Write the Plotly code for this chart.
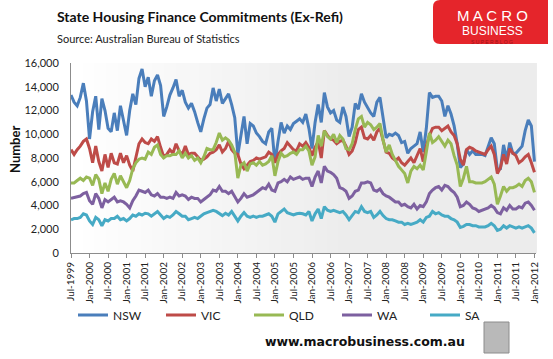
import plotly.graph_objects as go
import pandas as pd

# ---------------- data ----------------
months = pd.date_range("1999-07-01", "2012-01-01", freq="MS").strftime("%b-%Y").tolist()
tick_labels = months[::6]

nsw = [13300, 12700, 12400, 13100, 14300, 12800, 9600, 11900, 13200, 10400, 13000, 12000, 10500, 10200, 11800, 10300, 12400, 11200, 9900, 12000, 13400, 12500, 14700, 15500, 14000,
       14800, 13200, 14500, 15000, 14100, 11500, 12300, 13300, 13900, 14600, 13200, 13700, 12700, 12200, 12600, 11900, 11000, 10200, 11300, 12200, 12500, 13900, 12800, 13800, 12600, 13000,
       13400, 12500, 11400, 8300, 9800, 11500, 9200, 10900, 10700, 10100, 9800, 9400, 9200, 10200, 10500, 7600, 9400, 11000, 10100, 10700, 10400, 10900, 11100, 11300, 11000,
       11700, 10500, 8800, 11000, 12500, 11000, 13500, 12300, 11800, 12000, 11200, 11000, 12300, 11500, 9800, 10600, 12600, 12100, 13400, 12700, 12200, 11800, 11500, 12700, 13100, 11500,
       9700, 10000, 9900, 10100, 9900, 9300, 9400, 8400, 8800, 9000, 9200, 10200, 8500, 10500, 13500, 13100, 13200, 13200, 12800, 11500, 12400, 11700, 10700, 9200, 7200, 7500,
       8700, 8300, 8600, 8300, 8300, 8300, 8200, 9000, 9700, 9200, 7000, 7100, 9100, 7900, 9300, 8400, 8400, 8700, 9000, 10300, 11200, 10700, 7700]

vic = [8700, 8300, 8700, 9000, 9400, 9600, 8800, 7600, 9000, 7700, 6900, 8300, 7200, 8400, 7600, 7500, 8400, 7600, 8200, 7400, 6900, 8000, 9200, 9600, 9300,
       9200, 9600, 9400, 9800, 8900, 8100, 8300, 8700, 8400, 9200, 8600, 8300, 9000, 8300, 8400, 8400, 8100, 7800, 7900, 8100, 8400, 8500, 8700, 9100, 8500, 8800,
       9400, 8700, 8400, 8300, 7500, 7100, 7400, 7700, 7800, 8000, 7900, 8000, 8100, 8500, 8300, 7600, 8300, 8600, 8800, 9300, 9000, 8700, 8600, 9200, 9000,
       9300, 8900, 8200, 8900, 9400, 8000, 10300, 9900, 9600, 9500, 9200, 9400, 9500, 9000, 8300, 8600, 9300, 10400, 10600, 9700, 9600, 9900, 9500, 10200, 10500, 9500,
       8500, 8400, 8000, 7800, 8000, 7600, 7400, 7700, 8000, 7600, 8200, 8800, 7700, 9000, 9900, 10500, 10600, 10600, 10300, 10500, 10700, 10200, 9900, 9200, 7900, 7400,
       8700, 8900, 8800, 8600, 8500, 8400, 8300, 8700, 9000, 8300, 6700, 7200, 8300, 7500, 8800, 8400, 8200, 7600, 7800, 8100, 8300, 7600, 6800]

qld = [5900, 5900, 6100, 6300, 6100, 6400, 6300, 5700, 6600, 6200, 5000, 5900, 5200, 6200, 6700, 5800, 6500, 6000, 5500, 6100, 7100, 7600, 7900, 8000, 7900,
       8500, 8300, 8900, 9100, 8300, 8000, 8200, 8200, 8300, 8300, 8600, 8000, 8400, 8000, 8200, 7800, 8000, 7600, 8100, 8800, 8700, 8700, 9300, 10100, 9500, 9700,
       9500, 9100, 8500, 6300, 7400, 7600, 6900, 7500, 7600, 7400, 7700, 7400, 7500, 7700, 8200, 6500, 7700, 8400, 8100, 8200, 8400, 8500, 8300, 8700, 8700,
       9000, 8600, 7400, 8100, 9900, 9000, 10300, 9800, 9600, 10000, 9300, 9900, 9600, 8800, 8700, 9200, 10400, 11300, 11500, 10600, 11000, 10800, 10400, 10600, 10900, 9500,
       8500, 9100, 8300, 7800, 7300, 7000, 6700, 5900, 6900, 7300, 7100, 7400, 7000, 8500, 10100, 9300, 9500, 9800, 9400, 9000, 9500, 9200, 8200, 7400, 5600, 6300,
       7300, 6000, 6000, 5900, 5900, 5900, 6000, 6200, 6400, 5800, 4100, 4800, 5600, 5200, 5500, 5500, 5600, 5800, 5600, 6100, 6300, 6000, 5100]

wa = [4600, 4650, 4700, 4800, 5000, 5100, 4400, 4100, 5000, 4600, 3800, 4500, 4300, 4500, 4700, 4300, 4400, 4300, 4100, 3800, 4400, 4800, 5300, 5200, 5100,
      5300, 4900, 4800, 5000, 4700, 4700, 4600, 4700, 4600, 5100, 4800, 4900, 4800, 4500, 4700, 4600, 4600, 4300, 4500, 4700, 4900, 5300, 5200, 5600, 5200, 5200,
      5000, 5200, 4800, 4300, 4600, 5000, 4700, 4800, 4900, 5100, 5300, 5500, 5400, 5800, 5300, 5200, 5900, 6000, 6200, 6000, 6400, 6200, 6300, 6400, 6200,
      6300, 6300, 5600, 6400, 6900, 5900, 7300, 6900, 6800, 6600, 6300, 5500, 5400, 5200, 4600, 4800, 5200, 5300, 5900, 5900, 6000, 5900, 5300, 5200, 5400, 5000,
      4800, 4700, 4500, 4300, 4300, 4000, 4100, 3900, 3800, 4100, 3700, 4000, 3900, 4300, 5000, 5300, 5500, 5600, 5300, 5700, 5600, 5300, 5100, 4700, 3900, 4000,
      4300, 4100, 3800, 3700, 3500, 3600, 3700, 3800, 4000, 3800, 3400, 3300, 3800, 3600, 4000, 3700, 3700, 3900, 3800, 4200, 4300, 4000, 3600]

sa = [2800, 2900, 2900, 3000, 3300, 3200, 2700, 2400, 3000, 2800, 2300, 2800, 2700, 2900, 2900, 3100, 2800, 2900, 2700, 2900, 3200, 3100, 3300, 3200, 3350,
      3300, 3100, 3300, 3500, 3200, 2900, 3100, 3000, 3200, 3500, 3300, 3100, 3100, 2800, 2900, 3000, 2900, 3100, 3300, 3400, 3500, 3600, 3500, 3300, 3150, 3350,
      3200, 3500, 3100, 2700, 3100, 3400, 3100, 3000, 3100, 3000, 3100, 3100, 3200, 3300, 3100, 2600, 3300, 3500, 3700, 3400, 3300, 3200, 3300, 3350, 3300,
      3200, 3500, 2700, 3300, 3700, 2900, 3900, 3600, 3500, 3600, 3500, 3400, 3500, 3200, 2800, 3200, 3500, 3400, 3900, 3500, 3400, 3500, 3000, 3200, 3500, 3150,
      2900, 2800, 2800, 2700, 2600, 2600, 2400, 2500, 2400, 2500, 2600, 2800, 2600, 3000, 3100, 3500, 3300, 3400, 3200, 3100, 3100, 2900, 2800, 2600, 2150, 2250,
      2400, 2400, 2300, 2300, 2200, 2200, 2200, 2300, 2500, 2300, 1900, 2000, 2300, 2100, 2300, 2200, 2100, 2200, 2100, 2200, 2300, 2100, 1700]

series_names = ["NSW", "VIC", "QLD", "WA", "SA"]
series_values = [nsw, vic, qld, wa, sa]
series_colors = ["#4A7EBB", "#BE4B48", "#98B954", "#7D60A0", "#46AAC5"]

# ---------------- layout geometry ----------------
W, H = 553, 359
ML, MR, MT, MB = 71, 17, 63, 106
PW, PH = W - ML - MR, H - MT - MB


def px(x):
    return (x - ML) / PW


def py(y):
    return (H - MB - y) / PH


fig = go.Figure()
for name, vals, col in zip(series_names, series_values, series_colors):
    fig.add_trace(go.Scatter(x=months, y=vals, name=name, mode="lines",
                             line=dict(color=col, width=3)))

shapes = []
# gradient plot background
n = 40
for k in range(n):
    t = min(1.0, (k + 0.5) / n / 0.6)
    g = int(round(255 - (255 - 236) * t))
    shapes.append(dict(type="rect", xref="paper", yref="paper", x0=k / n, x1=(k + 1) / n + 0.002,
                       y0=0, y1=1, fillcolor=f"rgb({g},{g},{g})", line=dict(width=0), layer="below"))

# logo box
shapes.append(dict(type="path", xref="paper", yref="paper",
                   path=f"M {px(440)} {py(0)} L {px(548)} {py(0)} L {px(548)} {py(44)} L {px(440)} {py(44)} "
                        f"Q {px(433)} {py(44)} {px(433)} {py(37)} L {px(433)} {py(7)} Q {px(433)} {py(0)} {px(440)} {py(0)} Z",
                   fillcolor="#E5252B", line=dict(width=0)))
# footer picture box
shapes.append(dict(type="rect", xref="paper", yref="paper", x0=px(484), x1=px(509), y0=py(322), y1=py(353),
                   fillcolor="#B9B9B9", line=dict(color="#8C8C8C", width=1)))

annotations = [
    dict(text="<b>State Housing Finance Commitments (Ex-Refi)</b>", x=px(55), y=py(17), xref="paper", yref="paper",
         xanchor="left", yanchor="middle", showarrow=False, font=dict(family="Lato", size=14, color="#111111")),
    dict(text="Source: Australian Bureau of Statistics", x=px(55), y=py(38), xref="paper", yref="paper",
         xanchor="left", yanchor="middle", showarrow=False, font=dict(family="Lato", size=11, color="#222222")),
    dict(text="<b>Number</b>", x=px(15), y=py(150), xref="paper", yref="paper", textangle=-90,
         xanchor="center", yanchor="middle", showarrow=False, font=dict(family="Lato", size=13, color="#111111")),
    dict(text="<b>www.macrobusiness.com.au</b>", x=px(365), y=py(341), xref="paper", yref="paper",
         xanchor="center", yanchor="middle", showarrow=False, font=dict(family="DejaVu Sans", size=12.5, color="#111111")),
    dict(text="M A C R O", x=px(492), y=py(16), xref="paper", yref="paper", xanchor="center", yanchor="middle",
         showarrow=False, font=dict(family="Liberation Sans", size=15, color="#FFFFFF")),
    dict(text="BUSINESS", x=px(492), y=py(31), xref="paper", yref="paper", xanchor="center", yanchor="middle",
         showarrow=False, font=dict(family="Liberation Sans", size=12, color="#FFFFFF")),
    dict(text="S U P E R B L O G", x=px(492), y=py(42), xref="paper", yref="paper", xanchor="center", yanchor="middle",
         showarrow=False, font=dict(family="Liberation Sans", size=5, color="#9E1318")),
]

fig.update_layout(
    width=W, height=H, autosize=False,
    margin=dict(l=ML, r=MR, t=MT, b=MB, pad=0, autoexpand=False),
    paper_bgcolor="white", plot_bgcolor="rgba(0,0,0,0)",
    font=dict(family="Lato", size=11, color="#222222"),
    shapes=shapes, annotations=annotations,
    showlegend=True,
    legend=dict(orientation="h", xref="container", yref="container", x=73 / W, y=1 - 315 / H,
                xanchor="left", yanchor="middle", entrywidth=43, entrywidthmode="pixels",
                font=dict(family="Lato", size=12, color="#222222"), bgcolor="rgba(0,0,0,0)",
                itemwidth=30, tracegroupgap=0),
    xaxis=dict(type="category", range=[0, 150.5], tickmode="array", tickvals=tick_labels, ticktext=tick_labels,
               tickangle=-90, ticks="outside", ticklen=4, tickcolor="#8C8C8C", showgrid=False, zeroline=False,
               automargin=False,
               showline=True, linecolor="#8C8C8C", linewidth=1, tickfont=dict(family="Lato", size=10, color="#222222")),
    yaxis=dict(range=[0, 16000], tickmode="array", tickvals=list(range(0, 16001, 2000)), automargin=False,
               tickformat=",d", ticks="outside", ticklen=9, tickcolor="rgba(0,0,0,0)", showgrid=False, zeroline=False,
               showline=True, linecolor="#8C8C8C", linewidth=1, tickfont=dict(family="Lato", size=11, color="#222222")),
)

fig.write_html("out.html", config={"displayModeBar": False},
               post_script="document.body.style.margin='0';document.body.style.overflow='hidden';")
